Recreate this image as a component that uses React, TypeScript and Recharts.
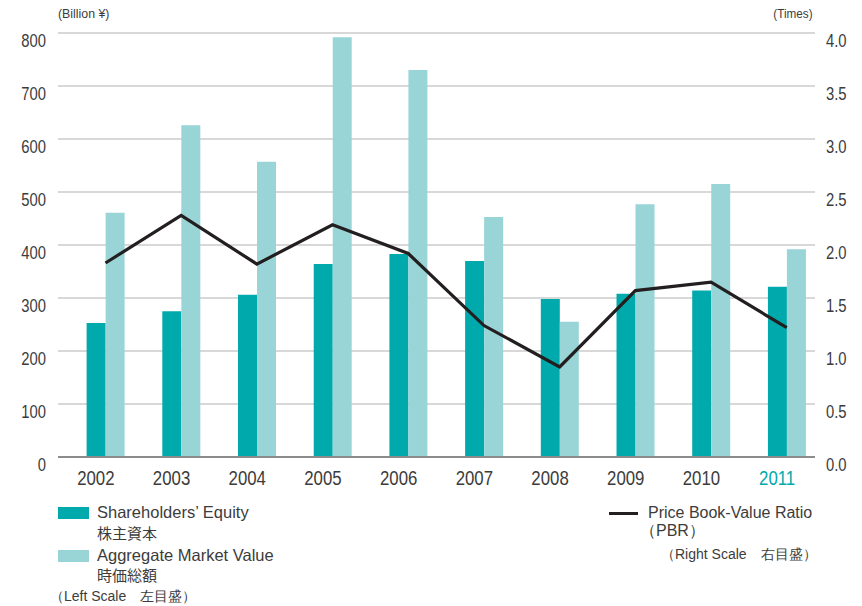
import { ComposedChart, Bar, Line, XAxis, YAxis, CartesianGrid } from 'recharts';

const years = ['2002', '2003', '2004', '2005', '2006', '2007', '2008', '2009', '2010', '2011'];
const equity = [253, 275, 306, 364, 383, 370, 298, 308, 314, 321];
const marketValue = [461, 626, 557, 792, 730, 453, 255, 477, 515, 392];
const pbr = [1.83, 2.28, 1.82, 2.19, 1.92, 1.24, 0.85, 1.57, 1.65, 1.22];
const leftTicks = [0, 100, 200, 300, 400, 500, 600, 700, 800];
const rightTicks = [0, 0.5, 1, 1.5, 2, 2.5, 3, 3.5, 4];

const data = years.map((year, i) => ({
  idx: i,
  year,
  equity: equity[i],
  marketValue: marketValue[i],
  pbr: pbr[i],
}));

const DARK = '#00a9ab';
const LIGHT = '#99d5d7';
const TEXT = '#3c3c3c';
const SANS = '"Liberation Sans", Arial, sans-serif';
const JP = '"Noto Sans CJK JP", sans-serif';

// bars + line sit a bit right of the year label, so they use a shifted numeric axis
const shift = 0.627;

// condensed look: regular sans squeezed horizontally
const Narrow = ({ x, y, anchor, size, color, children }: any) => (
  <g transform={`translate(${x},${y})`}>
    <text
      transform="scale(0.8,1)"
      textAnchor={anchor}
      dominantBaseline="central"
      fill={color}
      fontSize={size}
      fontFamily={SANS}
    >
      {children}
    </text>
  </g>
);

const LeftTick = (props: any) => (
  <Narrow x={46} y={props.y + 8} anchor="end" size={18.5} color={TEXT}>
    {props.payload.value}
  </Narrow>
);

const RightTick = (props: any) => (
  <Narrow x={826} y={props.y + 8} anchor="start" size={18.5} color={TEXT}>
    {Number(props.payload.value).toFixed(1)}
  </Narrow>
);

const YearTick = (props: any) => {
  const last = props.payload.value === '2011';
  return (
    <Narrow x={props.x} y={478} anchor="middle" size={21} color={last ? DARK : TEXT}>
      {props.payload.value}
    </Narrow>
  );
};

const swatch = (color: string) => ({
  position: 'absolute' as const,
  width: 31,
  height: 12,
  background: color,
});

const txt = (left: number, top: number, size = 16.5, font = SANS) => ({
  position: 'absolute' as const,
  left,
  top,
  fontSize: size,
  lineHeight: 1,
  color: TEXT,
  fontFamily: font,
  whiteSpace: 'nowrap' as const,
});

export default function App() {
  return (
    <div style={{ position: 'absolute', left: 0, top: 0, width: 862, height: 606, background: '#fff' }}>
      <ComposedChart
        width={862}
        height={606}
        data={data}
        margin={{ top: 33, right: 0, bottom: 119, left: 0 }}
        barGap={0}
      >
        <CartesianGrid vertical={false} yAxisId="left" xAxisId="cat" stroke="#d8d8d8" strokeWidth={2} />
        <XAxis
          xAxisId="cat"
          dataKey="year"
          height={30}
          tickLine={false}
          axisLine={{ stroke: '#8c8c8c', strokeWidth: 2 }}
          tick={<YearTick />}
          interval={0}
        />
        <XAxis
          xAxisId="num"
          type="number"
          dataKey="idx"
          domain={[-shift, 10 - shift]}
          ticks={years.map((_, i) => i)}
          hide
        />
        <YAxis
          yAxisId="left"
          width={58}
          domain={[0, 800]}
          ticks={leftTicks}
          axisLine={false}
          tickLine={false}
          tick={<LeftTick />}
        />
        <YAxis
          yAxisId="right"
          orientation="right"
          width={47}
          domain={[0, 4]}
          ticks={rightTicks}
          axisLine={false}
          tickLine={false}
          tick={<RightTick />}
        />
        <Bar xAxisId="num" yAxisId="left" dataKey="equity" fill={DARK} barSize={19} isAnimationActive={false} />
        <Bar xAxisId="num" yAxisId="left" dataKey="marketValue" fill={LIGHT} barSize={19} isAnimationActive={false} />
        <Line
          xAxisId="num"
          yAxisId="right"
          dataKey="pbr"
          type="linear"
          stroke="#231f20"
          strokeWidth={3.2}
          dot={false}
          isAnimationActive={false}
        />
      </ComposedChart>

      <div style={{ ...txt(58, 7, 13), transform: 'scaleX(0.95)', transformOrigin: 'left' }}>(Billion ¥)</div>
      <div style={{ ...txt(0, 7, 13), left: 'auto', right: 49, transform: 'scaleX(0.9)', transformOrigin: 'right' }}>
        (Times)
      </div>

      <div style={{ ...swatch(DARK), left: 58, top: 507 }} />
      <div style={txt(97, 504)}>Shareholders’ Equity</div>
      <div style={txt(97, 525, 15, JP)}>株主資本</div>
      <div style={{ ...swatch(LIGHT), left: 58, top: 550 }} />
      <div style={txt(97, 547)}>Aggregate Market Value</div>
      <div style={txt(97, 567, 15, JP)}>時価総額</div>
      <div style={txt(50, 589, 14)}>（Left Scale　左目盛）</div>

      <div style={{ position: 'absolute', left: 609, top: 512, width: 29, height: 3, background: '#231f20' }} />
      <div style={txt(648, 505, 16)}>Price Book-Value Ratio</div>
      <div style={txt(640, 523, 16)}>（PBR）</div>
      <div style={txt(661, 547, 14)}>（Right Scale　右目盛）</div>
    </div>
  );
}
